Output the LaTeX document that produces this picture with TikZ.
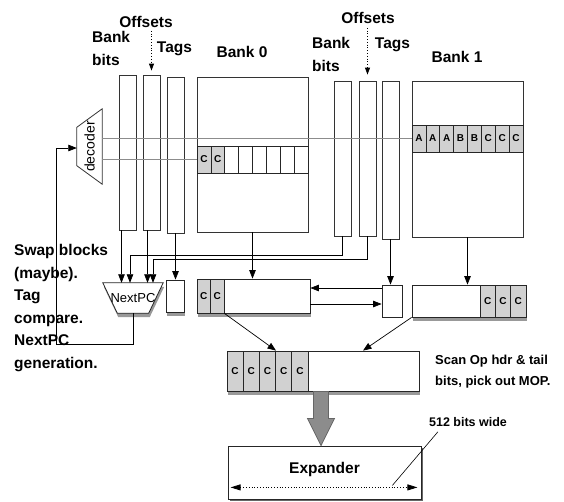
\documentclass[tikz,border=0pt]{standalone}
\usepackage{fontspec}
\setmainfont{Liberation Sans}
\usetikzlibrary{arrows.meta,positioning,shapes.geometric,shadows,calc}

\begin{document}
\begin{tikzpicture}[x=1pt,y=-1pt,
    lbl/.style={font=\fontsize{15.5}{22.6}\selectfont\bfseries, align=left, inner sep=0pt},
    note/.style={font=\fontsize{13}{21}\selectfont\bfseries, align=left, inner sep=0pt},
    col/.style={rectangle, draw=black!80, line width=0.8pt, minimum width=17pt, inner sep=0pt},
    bankbox/.style={rectangle, draw=black!80, line width=0.8pt, minimum width=111pt, inner sep=0pt},
    rowbox/.style={rectangle, draw=black!85, fill=white, line width=0.8pt, inner sep=0pt},
    cell/.style={rectangle, draw=black!85, fill=black!18, line width=0.7pt, inner sep=0pt,
                 font=\fontsize{10}{10}\selectfont\bfseries},
    holder/.style={rectangle, inner sep=0pt, font=\fontsize{13}{13}\selectfont},
    shade/.style={drop shadow={shadow xshift=1pt, shadow yshift=-4pt, fill=black!40, opacity=1}},
    arr/.style={-{Triangle[length=8.5pt,width=6.5pt]}, line width=0.7pt},
    dotarr/.style={-{Triangle[length=7pt,width=5pt]}, dotted, line width=0.8pt},
    wire/.style={draw=black!45, line width=1.1pt}
  ]
  \useasboundingbox (0,0) rectangle (564,501);

  % bank 0 side
  \node[col, minimum height=155pt] (bb0) at (127.5,152.5) {};
  \node[col, minimum height=155pt] (of0) at (151.5,152.5) {};
  \node[col, minimum height=156pt] (tg0) at (175.5,155) {};
  \node[bankbox, minimum height=155pt] (bank0) at (252.5,154.5) {};
  \node[rowbox, minimum width=111pt, minimum height=27pt] (row0) at (252.5,159.5) {};
  \foreach \i in {1,2}
    \node[cell, minimum width=13.875pt, minimum height=27pt] at ({197+(\i-0.5)*13.875},159.5) {C};
  \foreach \i in {3,...,8}
    \node[cell, fill=white, minimum width=13.875pt, minimum height=27pt] at ({197+(\i-0.5)*13.875},159.5) {};

  % bank 1 side
  \node[col, minimum height=155pt] (bb1) at (342.5,158.5) {};
  \node[col, minimum height=155pt] (of1) at (367.5,158.5) {};
  \node[col, minimum height=158pt] (tg1) at (390.5,160) {};
  \node[bankbox, minimum height=156pt] (bank1) at (467.5,159) {};
  \node[rowbox, minimum width=111pt, minimum height=27pt] (row1) at (467.5,138.5) {};
  \foreach \t [count=\i] in {A,A,A,B,B,C,C,C}
    \node[cell, minimum width=13.875pt, minimum height=27pt] at ({412+(\i-0.5)*13.875},138.5) {\t};

  % decoder
  \node[holder, font=\fontsize{14}{14}\selectfont, minimum width=25pt, minimum height=75pt] (decoder)
    at (89.5,146.5) {\rotatebox{90}{decoder}};
  \draw[draw=black!80, line width=0.8pt] (decoder.north east) -- (decoder.south east)
    -- ([yshift=18.5pt]decoder.south west) -- ([yshift=-18.5pt]decoder.north west) -- cycle;
  \draw[wire] (decoder.east |- row1.west) -- (row1.west);
  \draw[wire] (decoder.east |- row0.west) -- (row0.west);

  % labels
  \node[lbl] (offs0) at (146,22) {Offsets};
  \node[lbl, anchor=north west] (bits0) at (92,31) {Bank\\bits};
  \node[lbl] (tags0) at (174.5,48.5) {Tags};
  \node[lbl] (name0) at (242,52) {Bank 0};
  \node[lbl] (offs1) at (368,18) {Offsets};
  \node[lbl, anchor=north west] (bits1) at (312,37) {Bank\\bits};
  \node[lbl] (tags1) at (392.5,44.5) {Tags};
  \node[lbl] (name1) at (457,57) {Bank 1};
  \draw[dotarr, shorten >=4pt] ([yshift=-3pt]offs0.south -| of0.north) -- (of0.north);
  \draw[dotarr, shorten >=6pt] ([yshift=-4pt]offs1.south -| of1.north) -- (of1.north);

  % compare and select stage
  \node[holder, minimum width=60pt, minimum height=30pt] (nextpc) at (133,298) {};
  \draw[draw=black!85, fill=white, line width=0.8pt, shade] (nextpc.north west) -- (nextpc.north east)
    -- ([xshift=-14.5pt]nextpc.south east) -- ([xshift=14.5pt]nextpc.south west) -- cycle;
  \node[holder] at (nextpc) {NextPC};
  \node[rectangle, draw=black!85, fill=white, line width=0.8pt, minimum width=18pt,
        minimum height=32pt, shade] (tb0) at (175,296) {};
  \node[rowbox, minimum width=113pt, minimum height=34pt, shade] (out0) at (253.5,296) {};
  \foreach \i in {1,2}
    \node[cell, minimum width=13.5pt, minimum height=34pt] (out0-\i) at ({197+(\i-0.5)*13.5},296) {C};
  \node[rectangle, draw=black!85, fill=white, line width=0.8pt, minimum width=20pt,
        minimum height=32pt] (tb1) at (392,301) {};
  \node[rowbox, minimum width=114pt, minimum height=32pt, shade] (out1) at (469,301) {};
  \foreach \i in {1,2,3}
    \node[cell, minimum width=15.33pt, minimum height=32pt] at ({480+(\i-0.5)*15.33},301) {C};

  \draw[arr] ([xshift=-6pt]bb0.south) -- ([xshift=-6pt]bb0.south |- nextpc.north);
  \draw[arr] (bb1.south) -- ++(0,19) -| ([xshift=-3pt]nextpc.north);
  \draw[arr] ([xshift=-4pt]of0.south) -- ([xshift=-4pt]of0.south |- nextpc.north);
  \draw[arr] (of1.south) -- ++(0,23) -| ([xshift=20pt]nextpc.north);
  \draw[arr] (tg0.south) -- (tg0.south |- tb0.north);
  \draw[arr] (bank0.south) -- (bank0.south |- out0.north);
  \draw[arr] (tg1.south) -- (tg1.south |- tb1.north);
  \draw[arr] (bank1.south) -- (bank1.south |- out1.north);
  \draw[arr] ([yshift=8pt]out0.east -| tb1.west) -- ([yshift=8pt]out0.east);
  \draw[arr] ([yshift=-8pt]out0.east) -- ([yshift=-8pt]out0.east -| tb1.west);
  \draw[arr] (nextpc.south) -- ++(0,31) -| ([xshift=-20pt,yshift=-1.5pt]decoder.west) -- ([yshift=-1.5pt]decoder.west);

  \node[lbl, anchor=north west] (swap) at (14,244) {Swap blocks\\(maybe).\\Tag\\compare.\\NextPC\\generation.};

  % MOP row and expander
  \node[rowbox, minimum width=192pt, minimum height=40pt, shade] (mop) at (323,371) {};
  \foreach \i in {1,...,5}
    \node[cell, minimum width=16.2pt, minimum height=40pt] at ({227+(\i-0.5)*16.2},371) {C};
  \draw[arr] (out0-2.south east) -- ([xshift=-47pt]mop.north);
  \draw[arr] (out1.south west) -- ([xshift=40pt]mop.north);
  \node[note, anchor=west] (scan) at (435,371.5) {Scan Op hdr \& tail\\bits, pick out MOP.};

  \node[rowbox, minimum width=193pt, minimum height=53pt,
        drop shadow={shadow xshift=1.5pt, shadow yshift=-1.5pt, fill=black!60, opacity=1}] (expander) at (324.5,472.5) {};
  \node[lbl] (exptxt) at ([yshift=3pt]expander.center) {Expander};
  \draw[draw=black!60, fill=black!45, line width=0.8pt]
    ($(mop.south)+(-9.5,0)$) -- ++(15,0) -- ++(0,27) -- ++(6,0)
    -- ($(expander.north)+(-3.5,0)$) -- ($(mop.south)+(-15.5,27)$) -- ++(6,0) -- cycle;
  \draw[{Triangle[length=10pt,width=6pt]}-{Triangle[length=10pt,width=6pt]}, dotted, line width=0.8pt]
    ([xshift=3pt,yshift=12pt]expander.south west) -- ([xshift=-4pt,yshift=12pt]expander.south east);
  \node[note, font=\fontsize{12.5}{13}\selectfont\bfseries] (wide) at (468,422) {512 bits wide};
  \coordinate (widept) at ([xshift=-29pt,yshift=14pt]expander.south east);
  \draw[line width=0.6pt] ([xshift=9pt,yshift=-5pt]wide.south west) -- (widept);
\end{tikzpicture}
\end{document}
